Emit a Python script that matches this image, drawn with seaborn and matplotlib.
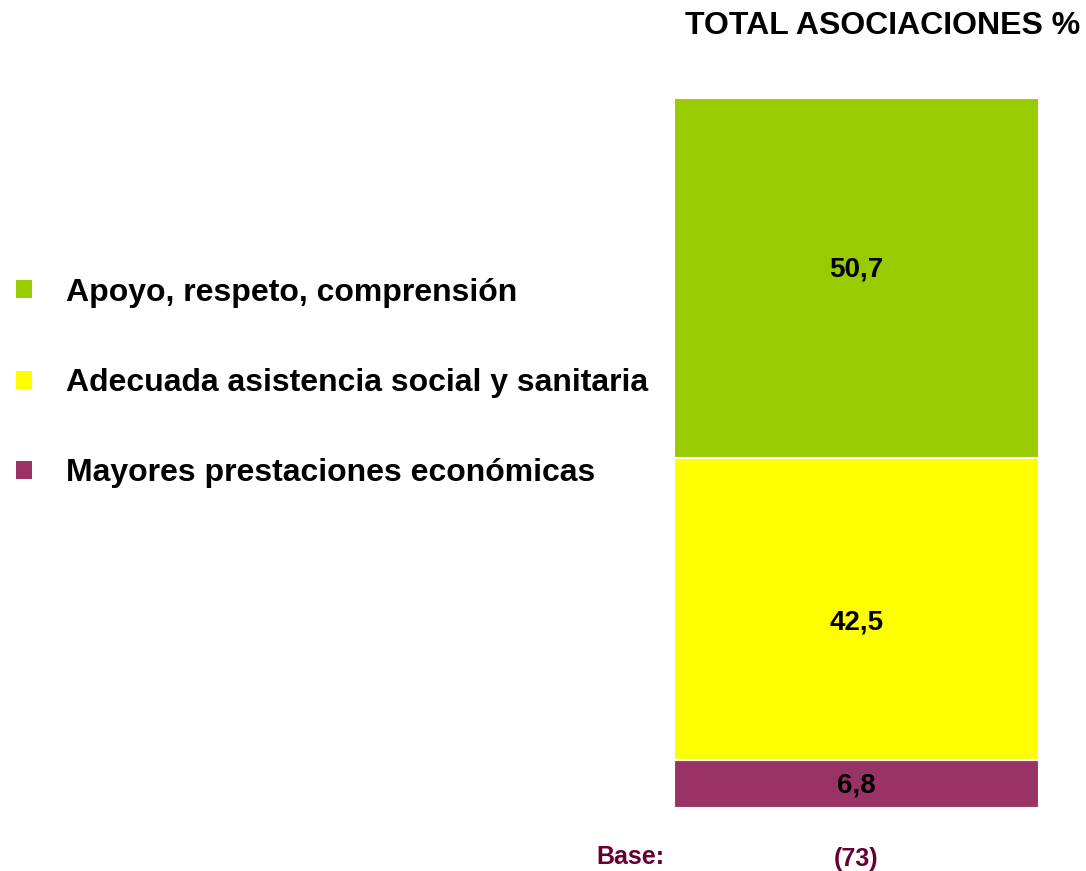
import matplotlib.pyplot as plt
import seaborn as sns
from matplotlib.patches import Patch

# Data
categories = ["Apoyo, respeto, comprensión",
              "Adecuada asistencia social y sanitaria",
              "Mayores prestaciones económicas"]
values = [50.7, 42.5, 6.8]
colors = ["#99CC00", "#FFFF00", "#993366"]
group = "(73)"

# small vertical nudges (points) of the value labels, as in the original
label_nudge = {50.7: 6, 42.5: -9.5, 6.8: -1.5}

sns.set_style("white")
plt.rcParams['font.family'] = ['Liberation Sans', 'DejaVu Sans']
plt.rcParams['text.color'] = 'black'

fig = plt.figure(figsize=(10.86, 8.71), dpi=100)
ax = fig.add_axes([674 / 1086, 63 / 871, 365 / 1086, 710 / 871])

# stack from the bottom: last category first
bottom = 0
for cat, val, col in reversed(list(zip(categories, values, colors))):
    sns.barplot(x=[group], y=[val], bottom=bottom, color=col, width=1,
                edgecolor="white", linewidth=1.5, saturation=1, ax=ax)
    bottom += val

for cont in ax.containers:
    v = cont.datavalues[0]
    anns = ax.bar_label(cont, labels=[f"{v:.1f}".replace(".", ",")], label_type="center",
                        fontsize=20, fontweight="bold", color="black")
    for a in anns:
        a.xyann = (0, label_nudge.get(round(float(v), 1), 0))

ax.set_ylim(0, 100)
ax.set_xlim(-0.5, 0.5)
ax.set_yticks([])
ax.set_ylabel("")
ax.set_xlabel("")
ax.tick_params(axis="x", length=0, pad=28, labelsize=18, labelcolor="#660033")
for lbl in ax.get_xticklabels():
    lbl.set_fontweight("bold")
sns.despine(ax=ax, left=True, bottom=True)

fig.text(630 / 1086, 1 - 857 / 871, "Base:", ha="center", va="center",
         fontsize=18, fontweight="bold", color="#660033")
fig.text(1080 / 1086, 1 - 26 / 871, "TOTAL ASOCIACIONES %", ha="right", va="center",
         fontsize=23, fontweight="bold", color="black")

handles = [Patch(facecolor=c, edgecolor="none") for c in colors]
fig.legend(handles, categories, loc="center left", bbox_to_anchor=(16 / 1086, 1 - 383 / 871),
           frameon=False, prop={"size": 23, "weight": "bold"}, labelcolor="black",
           borderpad=0, borderaxespad=0,
           handlelength=0.5, handleheight=0.5, handletextpad=1.05, labelspacing=1.89)

fig.savefig("out.png", dpi=100)
